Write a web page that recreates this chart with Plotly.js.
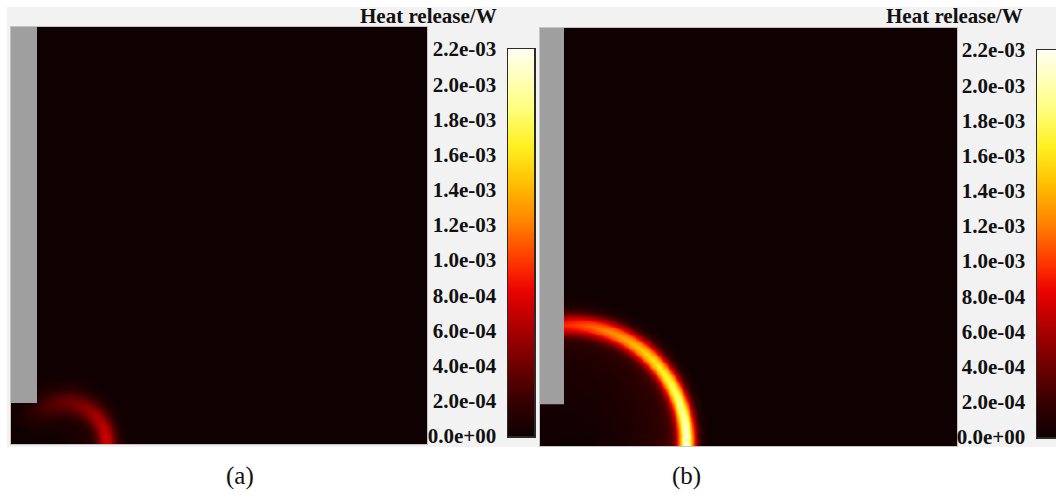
<!DOCTYPE html>
<html>
<head>
<meta charset="utf-8">
<script src="https://cdn.plot.ly/plotly-3.0.1.min.js"></script>
<style>
  html, body { margin: 0; padding: 0; background: #ffffff; }
  #chart { width: 1056px; height: 499px; }
</style>
</head>
<body>
<div id="chart"></div>
<script>
// ---------------- data ----------------
// colour scale tick values / labels (W)
const tickVals = [0, 2e-4, 4e-4, 6e-4, 8e-4, 1.0e-3, 1.2e-3, 1.4e-3, 1.6e-3, 1.8e-3, 2.0e-3, 2.2e-3];
const tickText = ["0.0e+00", "2.0e-04", "4.0e-04", "6.0e-04", "8.0e-04", "1.0e-03",
                  "1.2e-03", "1.4e-03", "1.6e-03", "1.8e-03", "2.0e-03", "2.2e-03"];
const zMax = 2.2e-3;

// domain size (arbitrary length units), wall extents
const domainSize = 20;
const wallA = [1.25, 1.97];   // wall width, height of gap below wall
const wallB = [1.15, 2.0];

// flame-front ring, panel (a)
const aCenter = [2.6, 0];
const aRadius = 1.98;
const aAngle  = [0, 20, 40, 60, 80, 100, 120, 140, 160];                       // deg
const aPeak   = [7.6e-4, 7.0e-4, 6.0e-4, 5.0e-4, 4.2e-4, 3.5e-4, 2.6e-4, 1.2e-4, 0.3e-4]; // W
const aWidth  = [0.40, 0.42, 0.46, 0.50, 0.54, 0.56, 0.58, 0.58, 0.58];

// flame-front ring, panel (b)
const bCenter = [1.4, 0.2];
const bRadius = 5.6;
const bAngle  = [0, 15, 30, 45, 60, 75, 90, 105];
const bPeak   = [2.2e-3, 2.0e-3, 1.8e-3, 1.6e-3, 1.38e-3, 1.2e-3, 0.98e-3, 0.8e-3];
const bWidth  = [0.34, 0.35, 0.37, 0.39, 0.41, 0.43, 0.45, 0.47];

// radial shape of the ring (offset in half-widths, relative heat release)
const ringShapeOffset = [-14, -8, -5, -3, -2, -1.5, -1, -0.5, 0, 0.5, 1, 1.5, 2, 2.5, 3.2];
const ringShapeValue  = [0, 0.035, 0.06, 0.09, 0.14, 0.25, 0.5, 0.85, 1, 0.85, 0.5, 0.22, 0.08, 0.025, 0];

const panelLabels = ["(a)", "(b)"];
const cbTitle = "Heat release/W";

// ---------------- build tables ----------------
function lookup(xs, ys, x) {
  const n = xs.length;
  if (x <= xs[0]) return ys[0];
  if (x >= xs[n - 1]) return ys[n - 1];
  for (let i = 0; i < n - 1; i++) {
    if (x >= xs[i] && x <= xs[i + 1]) {
      const t = (x - xs[i]) / (xs[i + 1] - xs[i]);
      return ys[i] + t * (ys[i + 1] - ys[i]);
    }
  }
  return 0;
}

const N = 240;
const cells = [];
for (let i = 0; i < N; i++) cells.push((i + 0.5) * domainSize / N);

function buildField(center, radius, angles, peaks, widths, fadeEnd) {
  const z = [];
  for (let j = 0; j < N; j++) {
    const row = [];
    for (let i = 0; i < N; i++) {
      const dx = cells[i] - center[0], dy = cells[j] - center[1];
      const r = Math.sqrt(dx * dx + dy * dy);
      let th = Math.atan2(dy, dx) * 180 / Math.PI;
      if (th < 0) th = 0;
      let pk = lookup(angles, peaks, th);
      if (th > angles[angles.length - 1]) pk = fadeEnd ? 0 : pk;
      const w = lookup(angles, widths, th);
      const u = (r - radius) / w;
      let s = 0;
      if (u >= ringShapeOffset[0] && u <= ringShapeOffset[ringShapeOffset.length - 1]) {
        s = lookup(ringShapeOffset, ringShapeValue, u);
      }
      row.push(pk * s);
    }
    z.push(row);
  }
  return z;
}

const zA = buildField(aCenter, aRadius, aAngle, aPeak, aWidth, true);
const zB = buildField(bCenter, bRadius, bAngle, bPeak, bWidth, false);

const hotScale = [
  [0.00, '#0f0002'], [0.08, '#300000'], [0.17, '#640000'], [0.25, '#990000'],
  [0.33, '#cc0000'], [0.38, '#ec0500'], [0.45, '#ff3500'], [0.55, '#ff8000'],
  [0.65, '#ffbc00'], [0.75, '#fff020'], [0.85, '#ffff80'], [1.00, '#fffff2']
];

const W = 1056, H = 499;
const px = v => v / W;
const py = v => 1 - v / H;

const traces = [
  { type: 'heatmap', x: cells, y: cells, z: zA, xaxis: 'x', yaxis: 'y',
    colorscale: hotScale, zmin: 0, zmax: zMax, zsmooth: 'best', showscale: false, hoverinfo: 'skip' },
  { type: 'heatmap', x: cells, y: cells, z: zB, xaxis: 'x2', yaxis: 'y2',
    colorscale: hotScale, zmin: 0, zmax: zMax, zsmooth: 'best', showscale: false, hoverinfo: 'skip' },
  { type: 'heatmap', x: [0, 1], y: tickVals, z: tickVals.map(v => [v, v]), xaxis: 'x3', yaxis: 'y3',
    colorscale: hotScale, zmin: 0, zmax: zMax, zsmooth: 'best', showscale: false, hoverinfo: 'skip' },
  { type: 'heatmap', x: [0, 1], y: tickVals, z: tickVals.map(v => [v, v]), xaxis: 'x4', yaxis: 'y4',
    colorscale: hotScale, zmin: 0, zmax: zMax, zsmooth: 'best', showscale: false, hoverinfo: 'skip' }
];

const fieldAxis = (dom, anchor) => ({
  domain: dom, anchor: anchor, range: [0, domainSize], showgrid: false, zeroline: false,
  showticklabels: false, ticks: '', showline: true, mirror: true, linecolor: '#c4c4c4', linewidth: 1,
  fixedrange: true
});
const tickFont = { family: 'Liberation Serif, Times New Roman, serif', size: 21, color: '#111111', weight: 'bold' };
const titleFont = { family: 'Liberation Serif, Times New Roman, serif', size: 21, color: '#111111', weight: 'bold' };
const barX = (dom, anchor) => ({
  domain: dom, anchor: anchor, range: [0, 1], showgrid: false, zeroline: false, showticklabels: false,
  ticks: '', showline: true, mirror: true, linecolor: '#2a2a2a', linewidth: 1.5, fixedrange: true
});
const barY = (dom, anchor, mirror) => ({
  domain: dom, anchor: anchor, range: [0, zMax], side: 'left', showgrid: false, zeroline: false,
  tickmode: 'array', tickvals: tickVals, ticktext: tickText, tickfont: tickFont,
  ticks: 'outside', ticklen: 6, tickcolor: 'rgba(0,0,0,0)',
  showline: true, mirror: mirror, linecolor: '#2a2a2a', linewidth: 1.5, fixedrange: true
});

const layout = {
  width: W, height: H,
  margin: { l: 0, r: 0, t: 0, b: 0 },
  paper_bgcolor: '#ffffff', plot_bgcolor: 'rgba(0,0,0,0)',
  showlegend: false,
  xaxis:  fieldAxis([px(11), px(427)], 'y'),
  yaxis:  fieldAxis([py(444), py(27)], 'x'),
  xaxis2: fieldAxis([px(540), px(957)], 'y2'),
  yaxis2: fieldAxis([py(446), py(28)], 'x2'),
  xaxis3: barX([px(508), px(534)], 'y3'),
  yaxis3: barY([py(436), py(49)], 'x3', true),
  xaxis4: barX([px(1037), 1], 'y4'),
  yaxis4: barY([py(437), py(50)], 'x4', false),
  shapes: [
    { type: 'rect', xref: 'paper', yref: 'paper', x0: px(7), x1: 1, y0: py(447), y1: py(7),
      fillcolor: '#f2f2f2', line: { width: 0 }, layer: 'below' },
    { type: 'rect', xref: 'x', yref: 'y', x0: 0, x1: wallA[0], y0: wallA[1], y1: domainSize,
      fillcolor: '#9f9f9f', line: { width: 0 }, layer: 'above' },
    { type: 'rect', xref: 'x2', yref: 'y2', x0: 0, x1: wallB[0], y0: wallB[1], y1: domainSize,
      fillcolor: '#9f9f9f', line: { width: 0 }, layer: 'above' }
  ],
  annotations: [
    { xref: 'paper', yref: 'paper', x: px(499), y: py(16), xanchor: 'right', yanchor: 'middle',
      text: cbTitle, showarrow: false, font: titleFont },
    { xref: 'paper', yref: 'paper', x: px(1025), y: py(16), xanchor: 'right', yanchor: 'middle',
      text: cbTitle, showarrow: false, font: titleFont },
    { xref: 'paper', yref: 'paper', x: px(240), y: py(476), xanchor: 'center', yanchor: 'middle',
      text: panelLabels[0], showarrow: false,
      font: { family: 'Liberation Serif, Times New Roman, serif', size: 25, color: '#111111' } },
    { xref: 'paper', yref: 'paper', x: px(686), y: py(476), xanchor: 'center', yanchor: 'middle',
      text: panelLabels[1], showarrow: false,
      font: { family: 'Liberation Serif, Times New Roman, serif', size: 25, color: '#111111' } }
  ]
};

Plotly.newPlot('chart', traces, layout, { staticPlot: true, displayModeBar: false });
</script>
</body>
</html>
